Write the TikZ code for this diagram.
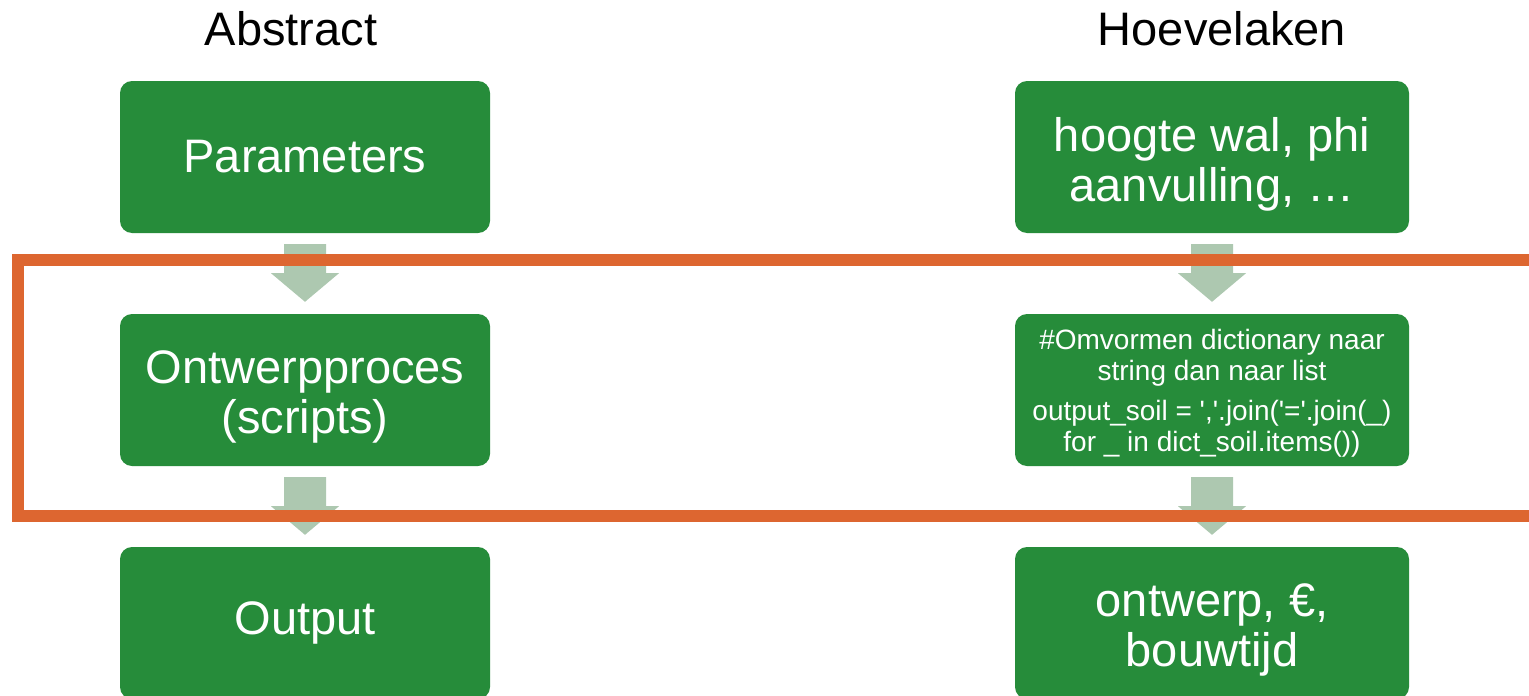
\documentclass[tikz,border=0pt]{standalone}
\usepackage{fontspec}
\setmainfont{Liberation Sans}
\usetikzlibrary{calc}
\definecolor{boxgreen}{RGB}{38,140,58}
\definecolor{arrowgreen}{RGB}{173,200,176}
\definecolor{frameorange}{RGB}{221,102,48}
\tikzset{
  greenbox/.style={rectangle, rounded corners=12pt, fill=boxgreen, text=white,
    inner sep=0pt, align=center, font=\fontsize{47}{50}\selectfont},
  leftbox/.style={greenbox, minimum width=370pt, minimum height=152pt},
  rightbox/.style={greenbox, minimum width=394pt, minimum height=152pt},
  boxtext/.style={text=white, inner sep=0pt, align=center, font=\fontsize{47}{50}\selectfont},
  codetext/.style={boxtext, font=\fontsize{28}{31}\selectfont},
  coltitle/.style={anchor=base, inner sep=0pt, font=\fontsize{47}{50}\selectfont},
  flowarr/.style={fill=arrowgreen},
  frame/.style={draw=frameorange, line width=12pt}
}
\newcommand{\flowarrow}[2]{%
  \fill[flowarr] ($(#1.south)+(-21,11)$) -- ($(#1.south)+(21,11)$)
    -- ($(#1.south)+(21,40)$) -- ($(#1.south)+(34,40)$)
    -- ($(#2.north)+(0,-12)$)
    -- ($(#1.south)+(-34,40)$) -- ($(#1.south)+(-21,40)$) -- cycle;}
\begin{document}
\begin{tikzpicture}[x=1pt,y=-1pt]
\useasboundingbox (0,0) rectangle (1529,696);
\fill[white] (0,0) rectangle (1529,696);
% titles
\node[coltitle] (tabs) at (291,45) {Abstract};
\node[coltitle] (thoe) at (1222,45) {Hoevelaken};
% left column
\node[leftbox] (par) at (305,157) {Parameters};
\node[leftbox] (ont) at (305,390) {};
\node[boxtext] (ontt) at ($(ont.center)+(0,7)$) {Ontwerpproces\\(scripts)};
\node[leftbox] (out) at (305,623) {Output};
% right column
\node[rightbox] (hoo) at (1212,157) {};
\node[boxtext] (hoot) at ($(hoo.center)+(0,7)$) {hoogte wal, phi\\aanvulling, \dots};
\node[rightbox] (code) at (1212,390) {};
\node[codetext] (codet) at ($(code.center)+(0,3)$)
  {\#Omvormen dictionary naar\\string dan naar list\\[9pt]
   output\_soil = \textquotesingle,\textquotesingle.join(\textquotesingle=\textquotesingle.join(\_)\\
   for \_ in dict\_soil.items())};
\node[rightbox] (res) at (1212,623) {};
\node[boxtext] (rest) at ($(res.center)+(0,7)$) {ontwerp, €,\\bouwtijd};
% arrows
\flowarrow{par}{ont}
\flowarrow{ont}{out}
\flowarrow{hoo}{code}
\flowarrow{code}{res}
% orange frame
\draw[frame] (18,260) rectangle (1570,516);
\end{tikzpicture}
\end{document}
